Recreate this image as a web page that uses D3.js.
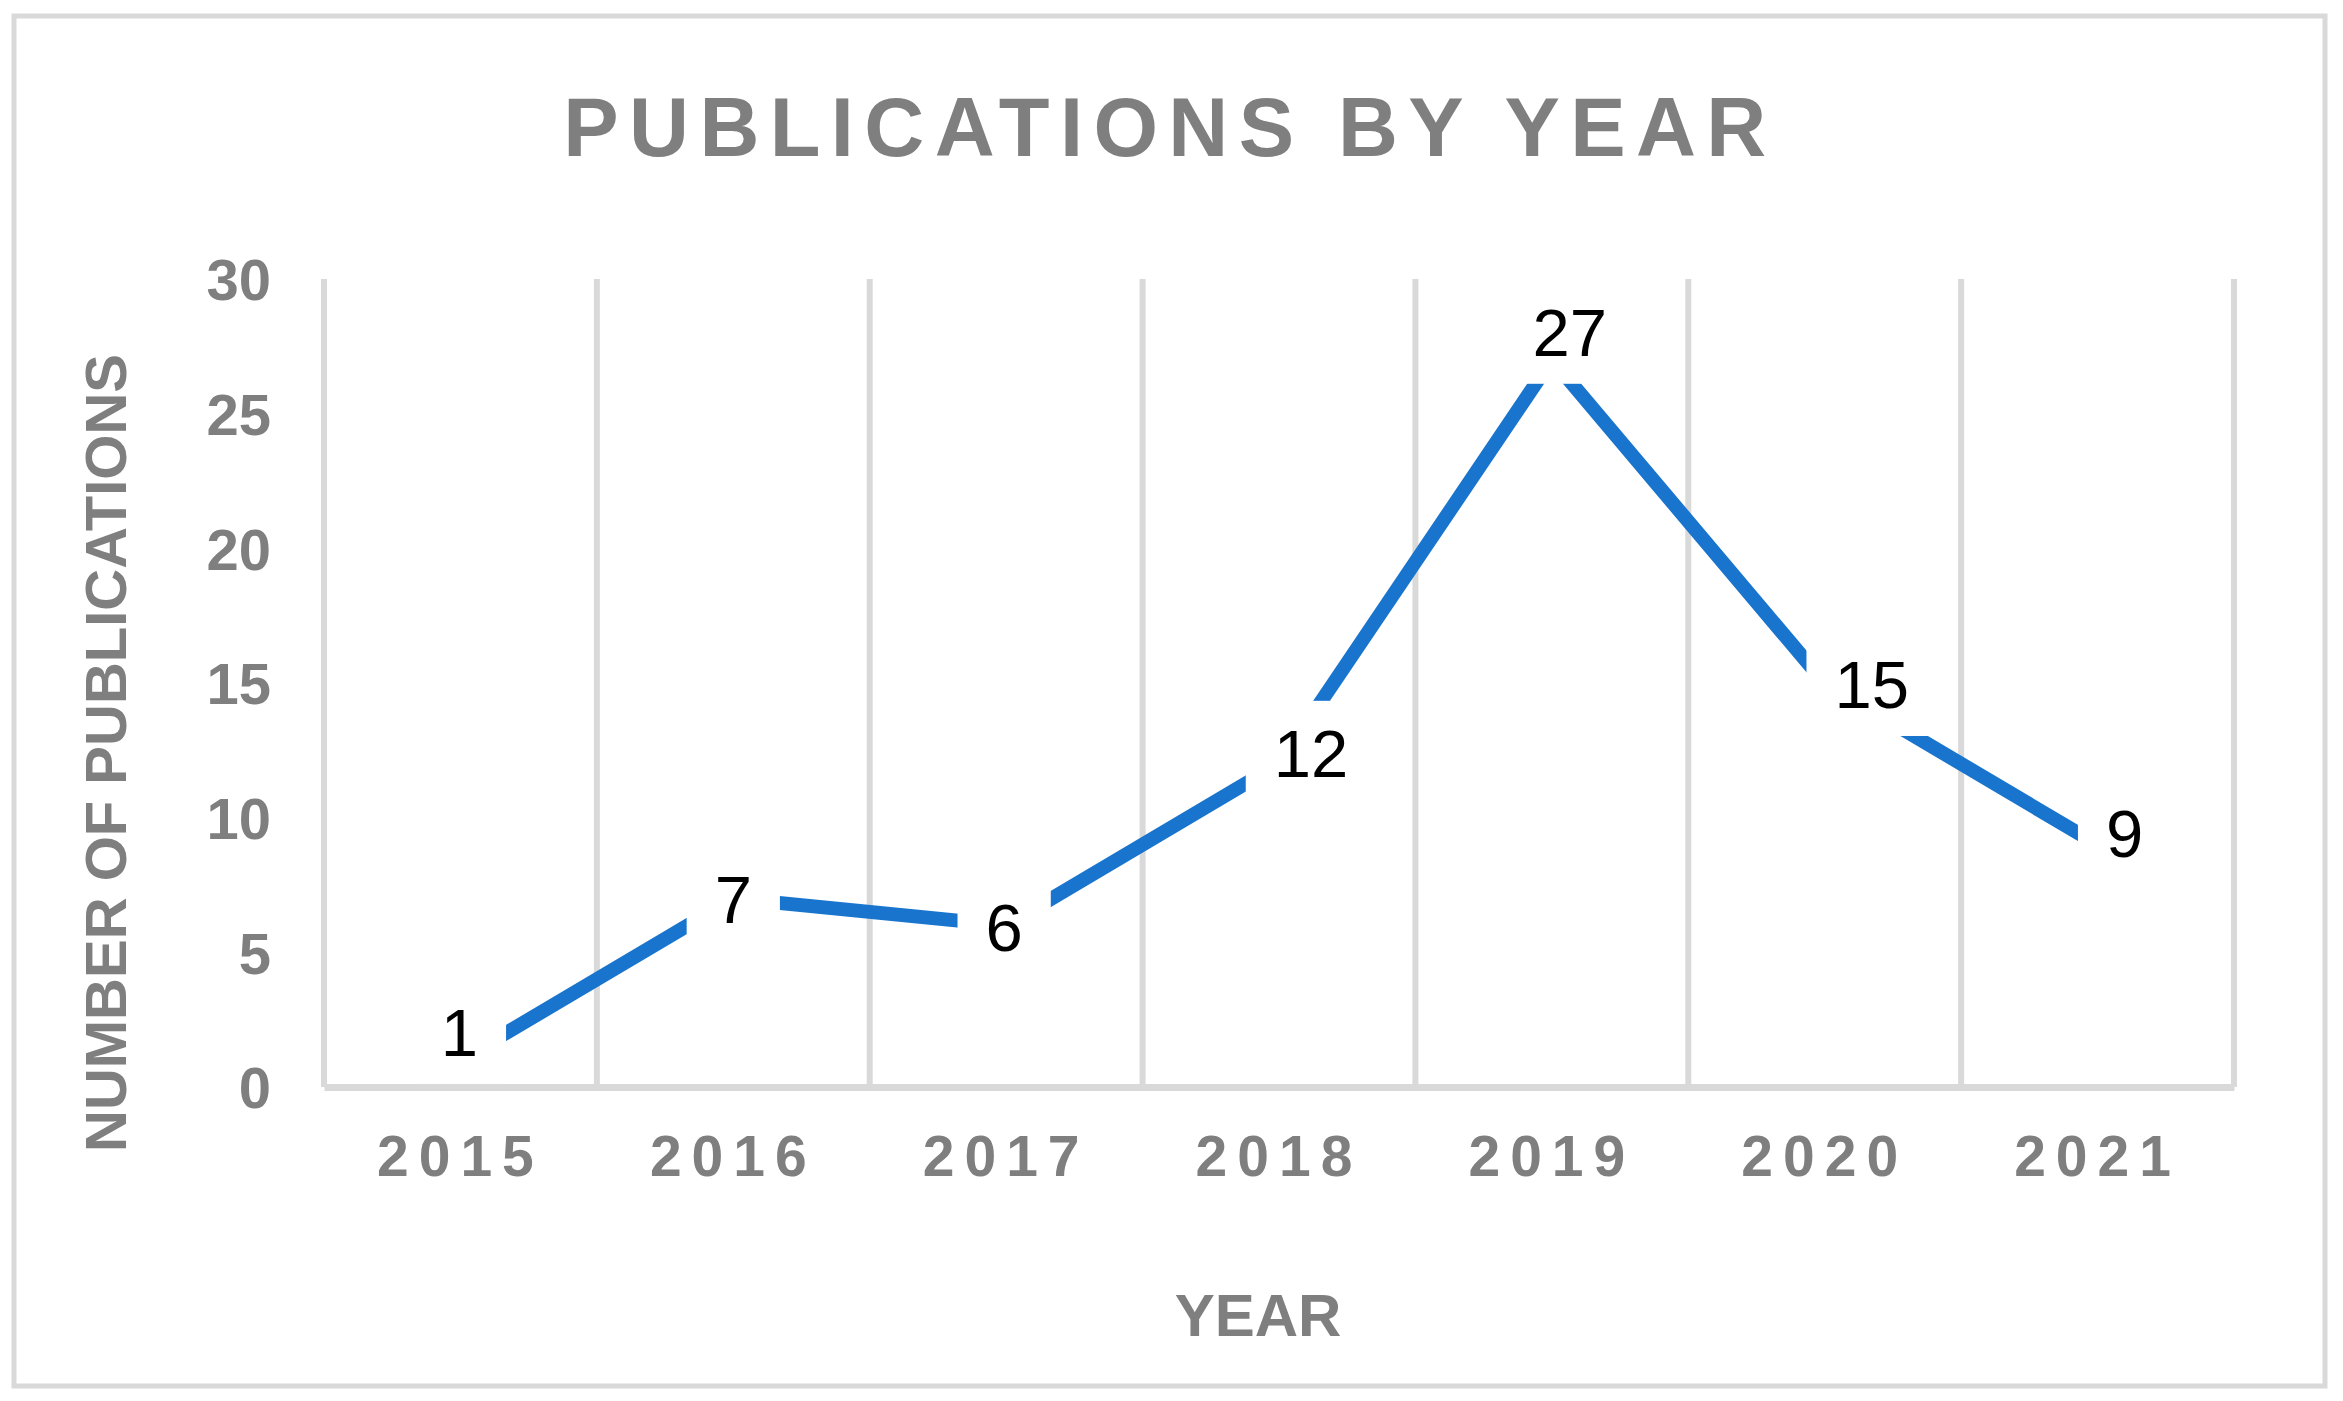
<!DOCTYPE html>
<html>
<head>
<meta charset="utf-8">
<script src="https://cdn.jsdelivr.net/npm/d3@7"></script>
<style>
  body { margin: 0; background: #fff; }
  text { font-family: "Liberation Sans", Arial, sans-serif; }
</style>
</head>
<body>
<svg id="chart" width="2343" height="1401"></svg>
<script>
// data
const years = ['2015', '2016', '2017', '2018', '2019', '2020', '2021'];
const publications = [1, 7, 6, 12, 27, 15, 9];
const yTicks = [0, 5, 10, 15, 20, 25, 30];

// where each data label sits relative to its point (px)
const labelShift = [[-1, -28], [0, 1], [-2, 2], [32, -11], [18, -28], [47, 1], [27, -12]];

const grey = '#7f7f7f';
const gridColor = '#d9d9d9';
const lineColor = '#1874cd';

const plot = {left: 324, right: 2234, top: 279, bottom: 1087};

const svg = d3.select('#chart');

// outer frame
svg.append('rect')
    .attr('x', 14).attr('y', 16)
    .attr('width', 2311).attr('height', 1370)
    .attr('fill', '#fff')
    .attr('stroke', gridColor)
    .attr('stroke-width', 5);

var x = d3.scaleBand().domain(years).range([plot.left, plot.right]).padding(0);
var y = d3.scaleLinear().domain([0, 30]).range([plot.bottom, plot.top]);

// vertical gridlines on the category edges
const edges = years.map((d) => x(d)).concat([plot.right]);
svg.append('g').selectAll('line')
    .data(edges)
    .join('line')
    .attr('x1', (d) => d).attr('x2', (d) => d)
    .attr('y1', y(30)).attr('y2', y(0))
    .attr('stroke', gridColor)
    .attr('stroke-width', 6);

// y axis (labels only)
const yAxis = svg.append('g')
    .attr('transform', `translate(${plot.left},0)`)
    .call(d3.axisLeft(y).tickValues(yTicks).tickSize(0).tickPadding(53));
yAxis.select('.domain').remove();
yAxis.selectAll('text')
    .attr('fill', grey)
    .attr('dy', '0.36em')
    .style('font-size', '58px')
    .style('font-weight', 'bold')
    .style('font-family', '"Liberation Sans", Arial, sans-serif');

// x axis
const xAxis = svg.append('g')
    .attr('transform', `translate(0,${plot.bottom})`)
    .call(d3.axisBottom(x).tickSize(0).tickSizeOuter(0).tickPadding(49));
xAxis.select('.domain')
    .attr('stroke', gridColor)
    .attr('stroke-width', 7);
xAxis.selectAll('text')
    .attr('fill', grey)
    .style('font-size', '57px')
    .style('font-weight', 'bold')
    .style('letter-spacing', '10px')
    .style('font-family', '"Liberation Sans", Arial, sans-serif');

// the line
var lineGenerator = d3.line()
.x(function(d, i) {
    return x(years[i]) + x.bandwidth() / 2;
})
.y(function(d) {
    return y(d);
});

svg.append('path')
    .attr('d', lineGenerator(publications))
    .attr('fill', 'none')
    .attr('stroke', lineColor)
    .attr('stroke-width', 14)
    .attr('stroke-linejoin', 'miter');

// data labels with white boxes
const fontSize = 67;
const capHalf = fontSize * 0.716 / 2;
const labels = svg.append('g').selectAll('g')
    .data(publications)
    .join('g')
    .attr('transform', (d, i) =>
    {
        const cx = x(years[i]) + x.bandwidth() / 2 + labelShift[i][0];
        const cy = y(d) + labelShift[i][1];
        return `translate(${cx},${cy})`;
    });

labels.append('rect')
    .attr('x', (d) => -String(d).length * fontSize * 0.556 / 2 - 28)
    .attr('y', -capHalf - 28)
    .attr('width', (d) => String(d).length * fontSize * 0.556 + 56)
    .attr('height', capHalf * 2 + 56)
    .attr('fill', '#fff');

labels.append('text')
    .attr('text-anchor', 'middle')
    .attr('y', capHalf)
    .attr('fill', '#000')
    .style('font-size', fontSize + 'px')
    .text((d) => d);

// titles
svg.append('text')
    .attr('x', 1170).attr('y', 156)
    .attr('text-anchor', 'middle')
    .attr('fill', grey)
    .style('font-size', '83px')
    .style('font-weight', 'bold')
    .style('letter-spacing', '10.4px')
    .text('PUBLICATIONS BY YEAR');

svg.append('text')
    .attr('x', 1258).attr('y', 1336)
    .attr('text-anchor', 'middle')
    .attr('fill', grey)
    .style('font-size', '60px')
    .style('font-weight', 'bold')
    .text('YEAR');

svg.append('text')
    .attr('transform', 'translate(126,753) rotate(-90)')
    .attr('text-anchor', 'middle')
    .attr('fill', grey)
    .style('font-size', '58px')
    .style('font-weight', 'bold')
    .text('NUMBER OF PUBLICATIONS');
</script>
</body>
</html>
